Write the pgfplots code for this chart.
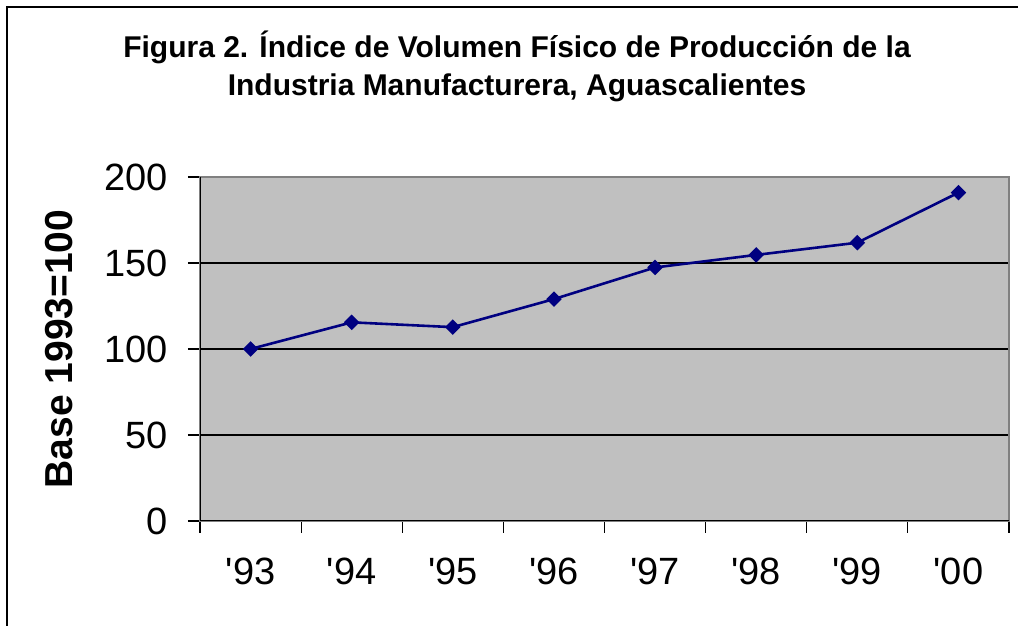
\documentclass[border=0pt]{standalone}
\usepackage{fontspec}
\setmainfont{Liberation Sans}
\usepackage{pgfplots}
\pgfplotsset{compat=1.18}
\definecolor{plotgray}{HTML}{C0C0C0}
\definecolor{bordergray}{HTML}{808080}
\definecolor{navyline}{HTML}{000080}
\begin{document}
\begin{tikzpicture}[x=1pt,y=1pt]
\useasboundingbox (0,0) rectangle (509,313);
\draw[line width=1pt] (3.5,-5) -- (3.5,309.5) -- (515,309.5);
\node[font=\fontsize{15}{19}\selectfont\bfseries, align=center] at (258.5,280) {Figura 2. Índice de Volumen Físico de Producción de la\\Industria Manufacturera, Aguascalientes};
\begin{axis}[
  at={(100pt,52.5pt)}, anchor=south west,
  width=404.5pt, height=172pt, scale only axis,
  xmin=0.5, xmax=8.5, ymin=0, ymax=200,
  ytick={0,50,100,150,200},
  xtick={1,2,3,4,5,6,7,8},
  xticklabels={\textquotesingle93,\textquotesingle94,\textquotesingle95,\textquotesingle96,\textquotesingle97,\textquotesingle98,\textquotesingle99,\textquotesingle00},
  minor xtick={0.5,1.5,2.5,3.5,4.5,5.5,6.5,7.5,8.5},
  xtick pos=bottom, ytick pos=left,
  tick align=outside,
  major tick length=6pt, minor tick length=6pt,
  major x tick style={draw=none},
  minor x tick style={black, line width=0.6pt},
  y tick style={black, line width=0.6pt},
  ymajorgrids, grid style={black, line width=0.6pt},
  axis background/.style={fill=plotgray},
  axis line style={bordergray, line width=1pt},
  ticklabel style={font=\fontsize{19}{23}\selectfont},
  /pgf/number format/assume math mode=true,
  yticklabel style={anchor=east, xshift=-6.5pt},
  xticklabel style={yshift=-9pt},
  ylabel={Base 1993=100},
  every axis y label/.style={at={(axis description cs:-0.1743,0.5)}, rotate=90, anchor=center, font=\fontsize{19.5}{23}\selectfont\bfseries},
]
\draw[black, line width=1pt] (rel axis cs:0,0) -- (rel axis cs:0,1);
\draw[black, line width=1pt] (rel axis cs:0,0) -- (rel axis cs:1,0);
\addplot[navyline, line width=1.3pt, mark=square*, mark size=2.1pt, mark options={rotate=45, fill=navyline, draw=navyline}] coordinates {
(1,100) (2,115.5) (3,112.7) (4,129) (5,147.4) (6,154.7) (7,161.8) (8,190.9)
};
\end{axis}
\end{tikzpicture}
\end{document}
